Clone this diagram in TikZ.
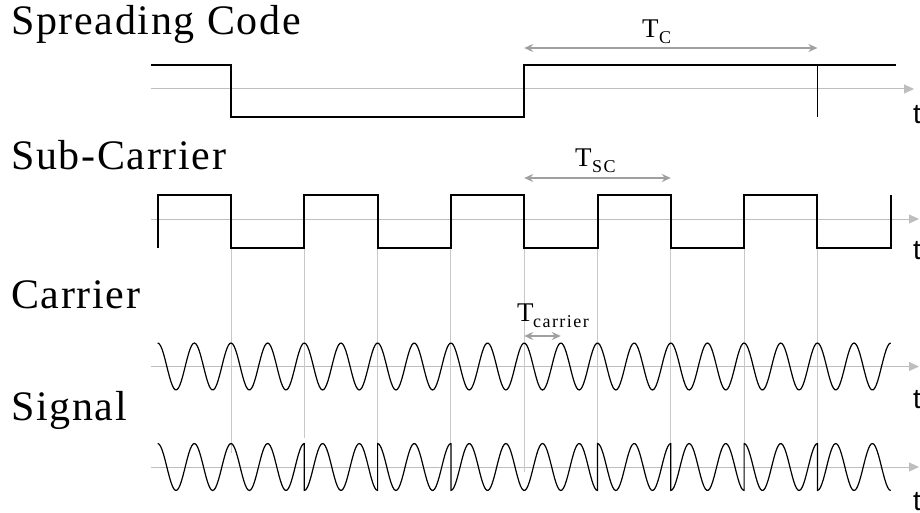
\documentclass[tikz,border=0pt]{standalone}
\usepackage{fontspec}
\setmainfont{Liberation Serif}
\newfontfamily\ttlfont[LetterSpace=4]{Liberation Serif}
\newfontfamily\subfont[LetterSpace=8]{Liberation Serif}
\newfontfamily\tfont{Liberation Sans}
\usetikzlibrary{arrows.meta}
\definecolor{axisgray}{RGB}{190,190,190}
\definecolor{gridgray}{RGB}{200,200,200}
\definecolor{dimgrey}{RGB}{160,160,160}
\begin{document}
\begin{tikzpicture}[x=1pt,y=-1pt,
  title/.style={anchor=base west, inner sep=0pt, font=\ttlfont\fontsize{42}{42}\selectfont},
  tlabel/.style={anchor=north west, inner sep=0pt, font=\tfont\fontsize{28}{28}\selectfont},
  axisline/.style={axisgray, line width=1pt, -{Triangle[length=10pt,width=9pt]}},
  square/.style={black, line width=2pt, line join=miter},
  wave/.style={black, line width=1.2pt, line join=round},
  gridline/.style={gridgray, line width=1pt},
  dimarrow/.style={dimgrey, line width=1.5pt, {Stealth[length=9pt,width=8pt,inset=3pt]}-{Stealth[length=9pt,width=8pt,inset=3pt]}},
  perlbl/.style={anchor=base west, inner sep=0pt, font=\fontsize{27}{27}\selectfont},
  sublbl/.style={anchor=base west, inner sep=0pt, font=\subfont\fontsize{18}{18}\selectfont}
]
\useasboundingbox (0,0) rectangle (920,513);
\fill[white] (0,0) rectangle (920,513);

% titles
\node[title] (tcode) at (11,35) {Spreading Code};
\node[title] (tsub) at (11,170) {Sub-Carrier};
\node[title] (tcar) at (11,308) {Carrier};
\node[title] (tsig) at (11,420) {Signal};

% axes
\coordinate (a1s) at (151,89);  \coordinate (a1e) at (914,89);
\coordinate (a2s) at (151,219); \coordinate (a2e) at (919,219);
\coordinate (a3s) at (151,366.5); \coordinate (a3e) at (919,366.5);
\coordinate (a4s) at (151,467); \coordinate (a4e) at (919,467);
\draw[axisline] (a1s) -- (a1e);
\draw[axisline] (a2s) -- (a2e);
\draw[axisline] (a3s) -- (a3e);
\draw[axisline] (a4s) -- (a4e);
\node[tlabel] (t1) at (913,105) {t};
\node[tlabel] (t2) at (913,241) {t};
\node[tlabel] (t3) at (913,390) {t};
\node[tlabel] (t4) at (913,492) {t};

% grid lines
\foreach \gx/\gy in {231/453, 304.3/438, 377.6/444, 450.9/444, 524.2/472, 597.5/444, 670.8/444, 744.1/444, 817.4/444}
  \draw[gridline] (\gx,248) -- (\gx,\gy);

% spreading code
\draw[square] (151,65) -- (231,65) -- (231,117) -- (524.2,117) -- (524.2,65) -- (896,65);
\draw[black, line width=1.2pt] (817.4,65) -- (817.4,117);

% sub-carrier
\draw[square] (157.7,248) -- (157.7,195) -- (231,195) -- (231,248) -- (304.3,248) -- (304.3,195)
  -- (377.6,195) -- (377.6,248) -- (450.9,248) -- (450.9,195) -- (524.2,195) -- (524.2,248)
  -- (597.5,248) -- (597.5,195) -- (670.8,195) -- (670.8,248) -- (744.1,248) -- (744.1,195)
  -- (817.4,195) -- (817.4,248) -- (890.7,248) -- (890.7,195);

% carrier
\draw[wave] plot[domain=157.7:890.7, samples=500] (\x,{366.5-23.5*cos(9.8226*(\x-157.7))});

% signal
\draw[wave]
  plot[domain=157.7:304.3, samples=100] (\x,{467-23.5*cos(9.8226*(\x-157.7))})
  -- plot[domain=304.3:377.6, samples=50] (\x,{467+23.5*cos(9.8226*(\x-157.7))})
  -- plot[domain=377.6:450.9, samples=50] (\x,{467-23.5*cos(9.8226*(\x-157.7))})
  -- plot[domain=450.9:597.5, samples=100] (\x,{467+23.5*cos(9.8226*(\x-157.7))})
  -- plot[domain=597.5:670.8, samples=50] (\x,{467-23.5*cos(9.8226*(\x-157.7))})
  -- plot[domain=670.8:744.1, samples=50] (\x,{467+23.5*cos(9.8226*(\x-157.7))})
  -- plot[domain=744.1:817.4, samples=50] (\x,{467-23.5*cos(9.8226*(\x-157.7))})
  -- plot[domain=817.4:890.7, samples=50] (\x,{467+23.5*cos(9.8226*(\x-157.7))});

% period arrows
\coordinate (tcA) at (524.2,48);  \coordinate (tcB) at (817.4,48);
\coordinate (tsA) at (524.2,178); \coordinate (tsB) at (670.8,178);
\coordinate (tkA) at (524.2,336); \coordinate (tkB) at (560.8,336);
\draw[dimarrow] (tcA) -- (tcB);
\draw[dimarrow] (tsA) -- (tsB);
\draw[dimarrow] (tkA) -- (tkB);

% period labels
\node[perlbl] (lTc) at (642,38) {T};
\node[sublbl] (lC) at (659,44) {C};
\node[perlbl] (lTs) at (575,167) {T};
\node[sublbl] (lSC) at (592,173) {SC};
\node[perlbl] (lTk) at (517,321) {T};
\node[sublbl] (lcar) at (533,327) {carrier};
\end{tikzpicture}
\end{document}
